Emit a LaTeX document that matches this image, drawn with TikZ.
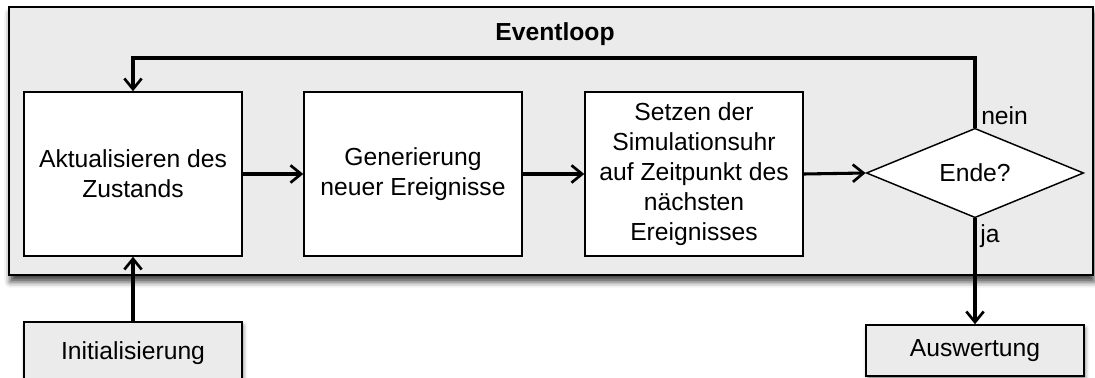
\documentclass[tikz,border=0pt]{standalone}
\usepackage{fontspec}
\setmainfont{Liberation Sans}
\usetikzlibrary{arrows.meta,shapes.geometric,shadows.blur,fit}
\definecolor{panel}{HTML}{EBEBEB}
\begin{document}
\begin{tikzpicture}[x=0.75pt,y=-0.75pt,
  txt/.style={font=\fontsize{18.5}{22.5}\selectfont, align=center},
  procbox/.style={txt, draw=black, line width=1.1pt, fill=white, minimum width=163.5pt, minimum height=123pt, inner sep=0pt},
  termbox/.style={txt, draw=black, line width=1.1pt, fill=panel, minimum width=163.5pt, inner sep=0pt,
     blur shadow={shadow xshift=1pt, shadow yshift=-2.5pt, shadow blur radius=3pt, shadow opacity=50}},
  flow/.style={line width=2.3pt, -{Straight Barb[length=8pt,width=13pt,line width=2pt]}},
  lbl/.style={font=\fontsize{18.5}{22.5}\selectfont, inner sep=0pt}]
\useasboundingbox (0,0) rectangle (1095,378);
\node[fit={(9,7) (1093,275)}, inner sep=0pt, draw=black, line width=1.1pt, fill=panel,
  blur shadow={shadow xshift=1pt, shadow yshift=-5pt, shadow blur radius=4.5pt, shadow opacity=75}] (loop) {};
\node[font=\bfseries\fontsize{18.5}{22.5}\selectfont] (title) at (555,34) {Eventloop};
\node[procbox] (upd) at (133,174) {Aktualisieren des\\Zustands};
\node[procbox] (gen) at (413,174) {Generierung\\neuer Ereignisse};
\node[procbox] (clk) at (694,174) {Setzen der\\Simulationsuhr\\auf Zeitpunkt des\\nächsten\\Ereignisses};
\node[txt, diamond, draw=black, line width=1.1pt, fill=white, minimum width=163pt, minimum height=64pt, inner sep=0pt] (end) at (975,173) {Ende?};
\node[termbox, minimum height=46.5pt] (init) at (133,353) {Initialisierung};
\node[termbox, minimum height=38.25pt] (eval) at (975,350.5) {\raisebox{-1.5pt}{Auswertung}};
\coordinate (tr) at (975,58);
\coordinate (tl) at (133,58);
\draw[flow] (upd.east) -- (gen.west);
\draw[flow] (gen.east) -- (clk.west);
\draw[flow] (clk.east) -- (end.west);
\draw[flow] (end.north) -- (tr) -- (tl) -- (upd.north);
\draw[flow] (init.north) -- (upd.south);
\draw[flow] (end.south) -- (eval.north);
\node[lbl, anchor=west] (nein) at (981,116) {nein};
\node[lbl, anchor=west] (ja) at (980,236) {ja};
\end{tikzpicture}
\end{document}
